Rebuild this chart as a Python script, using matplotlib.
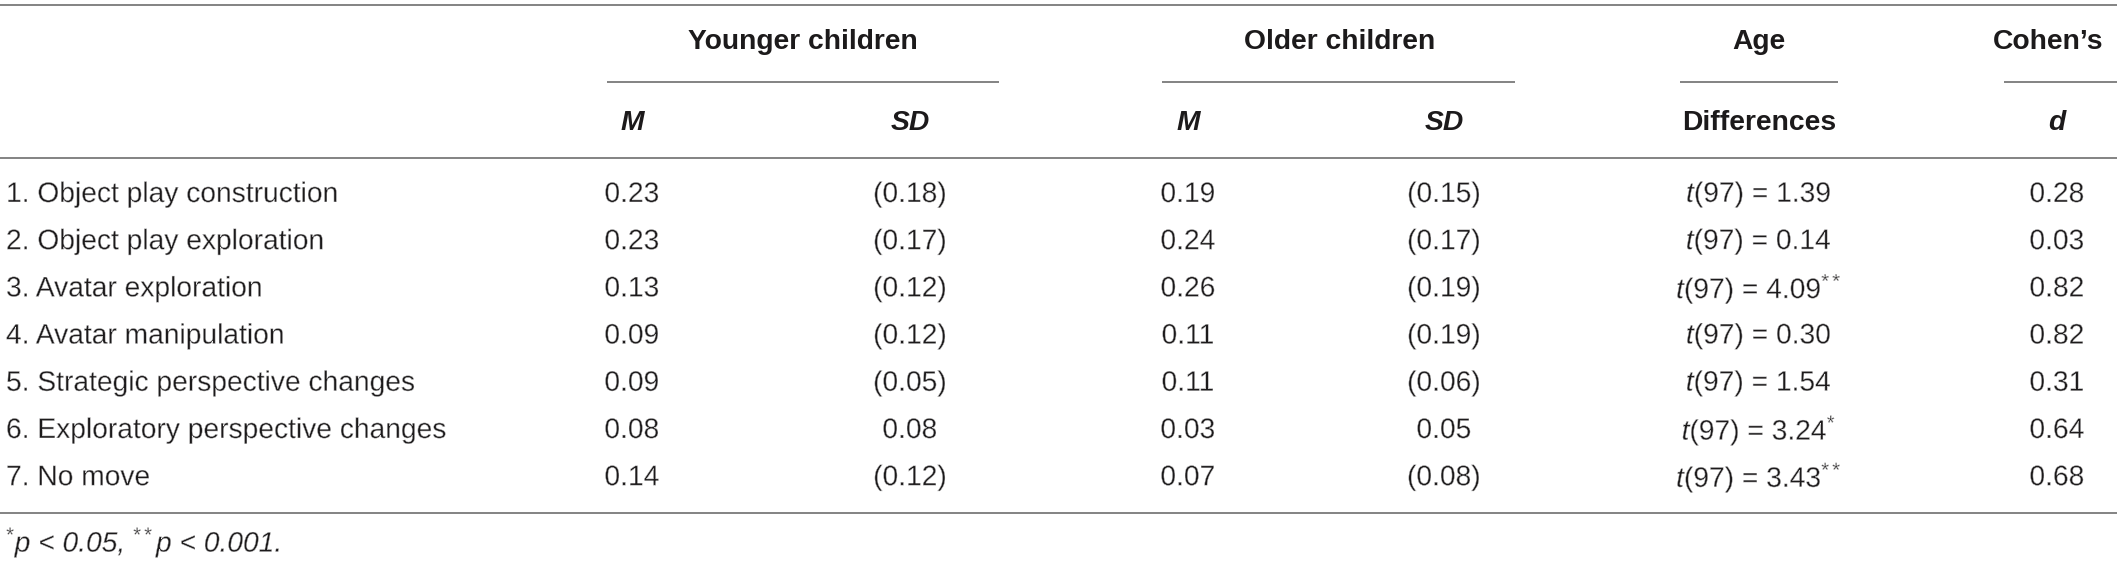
import matplotlib
matplotlib.use("Agg")
import matplotlib.pyplot as plt
import matplotlib.patheffects as pe

# Table content
behaviours = [
    "1. Object play construction",
    "2. Object play exploration",
    "3. Avatar exploration",
    "4. Avatar manipulation",
    "5. Strategic perspective changes",
    "6. Exploratory perspective changes",
    "7. No move",
]
young_m = ["0.23", "0.23", "0.13", "0.09", "0.09", "0.08", "0.14"]
young_sd = ["(0.18)", "(0.17)", "(0.12)", "(0.12)", "(0.05)", "0.08", "(0.12)"]
old_m = ["0.19", "0.24", "0.26", "0.11", "0.11", "0.03", "0.07"]
old_sd = ["(0.15)", "(0.17)", "(0.19)", "(0.19)", "(0.06)", "0.05", "(0.08)"]
t_values = ["1.39", "0.14", "4.09", "0.30", "1.54", "3.24", "3.43"]
t_stars = ["", "", "**", "", "", "*", "**"]
cohens_d = ["0.28", "0.03", "0.82", "0.82", "0.31", "0.64", "0.68"]

group_heads = ["Younger children", "Older children", "Age", "Cohen\u2019s"]
sub_heads = ["M", "SD", "M", "SD", "Differences", "d"]
sub_italic = [True, True, True, True, False, True]

plt.rcParams["font.family"] = ["Liberation Sans", "DejaVu Sans"]
plt.rcParams["mathtext.fontset"] = "custom"
plt.rcParams["mathtext.rm"] = "Liberation Sans"
plt.rcParams["mathtext.it"] = "Liberation Sans:italic"
plt.rcParams["mathtext.bf"] = "Liberation Sans:bold"

W, H = 2117, 562
TXT = "#1c1a1b"
RULE = "#7a7a7a"
FS = 20.3
# thin the regular glyphs slightly, the original uses a light face
THIN = [pe.Normal(), pe.Stroke(linewidth=0.35, foreground="white")]

fig = plt.figure(figsize=(W / 100, H / 100), dpi=100)
ax = fig.add_axes([0, 0, 1, 1])
ax.set_xlim(0, W)
ax.set_ylim(H, 0)
ax.axis("off")

# column centres (pixels)
col_x = [632, 910, 1188, 1444, 1759, 2057]
group_x = [803, 1340, 1759, 2048]
group_rule = [(607, 999), (1162, 1515), (1680, 1838), (2004, W)]

# horizontal rules
for y in (5, 158, 513):
    ax.plot([0, W], [y, y], color=RULE, lw=1.3, solid_capstyle="butt")
for x0, x1 in group_rule:
    ax.plot([x0, x1], [82, 82], color=RULE, lw=1.3, solid_capstyle="butt")

# header
for name, x in zip(group_heads, group_x):
    ax.text(x, 42, name, ha="center", va="center", fontsize=FS,
            fontweight="bold", color=TXT)
for name, x, it in zip(sub_heads, col_x, sub_italic):
    ax.text(x, 123, name, ha="center", va="center", fontsize=FS,
            fontweight="bold", fontstyle="italic" if it else "normal", color=TXT)

# body
row_y0, row_h = 195, 47.2
for i in range(len(behaviours)):
    y = row_y0 + i * row_h
    ax.text(6, y, behaviours[i], ha="left", va="center", fontsize=FS,
            color=TXT, path_effects=THIN)
    stars = "$^{%s}$" % t_stars[i] if t_stars[i] else ""
    cells = [young_m[i], young_sd[i], old_m[i], old_sd[i],
             "$t$(97) = " + t_values[i] + stars, cohens_d[i]]
    for x, s in zip(col_x, cells):
        ax.text(x, y, s, ha="center", va="center", fontsize=FS,
                color=TXT, path_effects=THIN)

# footnote
ax.text(6, 543, "$^{*}$$p$ < 0.05, $^{**}$$p$ < 0.001.", ha="left", va="center",
        fontsize=FS, fontstyle="italic", color=TXT, path_effects=THIN)

fig.savefig("out.png", dpi=100)
